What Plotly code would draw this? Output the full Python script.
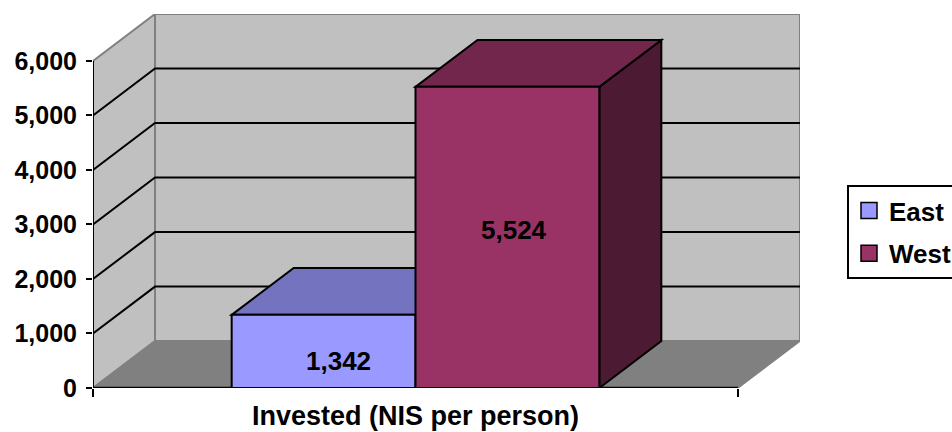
import plotly.graph_objects as go

# ---------------- data ----------------
categories = ["Invested (NIS per person)"]
series_names = ["East", "West"]
east_values = [1342]
west_values = [5524]
y_tick_values = [0, 1000, 2000, 3000, 4000, 5000, 6000]

# ---------------- style ----------------
FONT = "Arial, 'Liberation Sans', sans-serif"
FRONT_COLORS = ["#9999FF", "#993366"]
TOP_COLORS = ["#7373C0", "#73264C"]
SIDE_COLORS = ["#4D4D80", "#4D1A33"]
WALL = "#C0C0C0"
FLOOR = "#808080"
EDGE = "#808080"

AX_MAX = y_tick_values[-1]
DEPTH_Y = 860            # perspective depth, in value units
DEPTH_X = 62 / 645       # perspective depth, in category units
BAR_W = 0.285
Y_MAX = AX_MAX + DEPTH_Y
X_MIN, X_MAX = -0.5, 0.5 + DEPTH_X
LABEL_DX = [0.0233, 0.0102]
LABEL_YSHIFT = [-10, 7]

series_values = [east_values, west_values]

fig = go.Figure()

# front faces of the columns
for i, (name, vals) in enumerate(zip(series_names, series_values)):
    fig.add_trace(go.Bar(
        x=[0], y=vals, width=BAR_W, offset=-BAR_W if i == 0 else 0,
        marker=dict(color=FRONT_COLORS[i], line=dict(color="black", width=2)),
        name=name, showlegend=False, hoverinfo="skip",
    ))
# legend entries
for i, name in enumerate(series_names):
    fig.add_trace(go.Scatter(
        x=[None], y=[None], mode="markers", name=name, legendgroup=name,
        marker=dict(symbol="square", size=16, color=FRONT_COLORS[i],
                    line=dict(color="black", width=1.5)),
    ))

shapes = []
def poly(pts, fill, line_color, lw):
    d = "M " + " L ".join(f"{x},{y}" for x, y in pts) + " Z"
    shapes.append(dict(type="path", path=d, xref="x", yref="y", fillcolor=fill,
                       line=dict(color=line_color, width=lw), layer="below"))
def line(pts, color, lw):
    d = "M " + " L ".join(f"{x},{y}" for x, y in pts)
    shapes.append(dict(type="path", path=d, xref="x", yref="y",
                       line=dict(color=color, width=lw), layer="below"))

# walls and floor
poly([(X_MIN + DEPTH_X, DEPTH_Y), (X_MAX, DEPTH_Y), (X_MAX, AX_MAX + DEPTH_Y),
      (X_MIN + DEPTH_X, AX_MAX + DEPTH_Y)], WALL, EDGE, 2)
poly([(X_MIN, 0), (X_MIN, AX_MAX), (X_MIN + DEPTH_X, AX_MAX + DEPTH_Y),
      (X_MIN + DEPTH_X, DEPTH_Y)], WALL, EDGE, 2)
poly([(X_MIN, 0), (0.5, 0), (0.5 + DEPTH_X, DEPTH_Y), (X_MIN + DEPTH_X, DEPTH_Y)],
     FLOOR, EDGE, 1.5)
# gridlines
for v in y_tick_values[1:-1]:
    line([(X_MIN, v), (X_MIN + DEPTH_X, v + DEPTH_Y), (X_MAX, v + DEPTH_Y)], "black", 2)

# column tops and sides
for i, vals in enumerate(series_values):
    v = vals[0]
    x0 = -BAR_W if i == 0 else 0
    x1 = x0 + BAR_W
    poly([(x1, 0), (x1, v), (x1 + DEPTH_X, v + DEPTH_Y), (x1 + DEPTH_X, DEPTH_Y)],
         SIDE_COLORS[i], "black", 2)
    poly([(x0, v), (x0 + DEPTH_X, v + DEPTH_Y), (x1 + DEPTH_X, v + DEPTH_Y), (x1, v)],
         TOP_COLORS[i], "black", 2)

# axis lines
line([(X_MIN, 0), (X_MIN, AX_MAX)], "black", 2)
line([(X_MIN, 0), (0.5, 0)], "black", 2.5)

annotations = []
for i, vals in enumerate(series_values):
    v = vals[0]
    cx = (-BAR_W / 2 if i == 0 else BAR_W / 2) + LABEL_DX[i]
    annotations.append(dict(x=cx, y=v / 2, xref="x", yref="y", text=f"{v:,}",
                            showarrow=False, yshift=LABEL_YSHIFT[i],
                            font=dict(size=26, color="black", family=FONT, weight="bold")))

fig.update_layout(
    width=952, height=432,
    margin=dict(l=93, r=152, t=14, b=44, autoexpand=False),
    paper_bgcolor="white", plot_bgcolor="white",
    font=dict(family=FONT, size=25, color="black", weight="bold"),
    barmode="overlay",
    shapes=shapes, annotations=annotations,
    showlegend=True,
    legend=dict(x=(847 - 93) / 707, y=(388 - 185) / 374, xanchor="left", yanchor="top",
                bordercolor="black", borderwidth=2, bgcolor="white",
                tracegroupgap=6, traceorder="grouped", itemsizing="trace",
                font=dict(size=26, family=FONT, weight="bold")),
    xaxis=dict(range=[X_MIN, X_MAX], tickvals=[0], ticktext=categories, ticks="",
               showgrid=False, zeroline=False, showline=False, ticklabelstandoff=9,
               tickfont=dict(size=27),
               minor=dict(tickmode="array", tickvals=[-0.5, 0.5], ticks="outside",
                          ticklen=8, tickwidth=2, tickcolor="black", showgrid=False)),
    yaxis=dict(range=[0, Y_MAX], tickvals=y_tick_values, tickformat=",", ticks="outside",
               ticklen=6, tickwidth=2, tickcolor="black", showgrid=False, zeroline=False,
               showline=False, ticklabelstandoff=4, tickfont=dict(size=25)),
)

# remove the browser's default 8px page margin so the figure fills the window exactly
fig.write_html("out.html", config={"displayModeBar": False},
               post_script="document.body.style.margin='0';document.body.style.overflow='hidden';")
